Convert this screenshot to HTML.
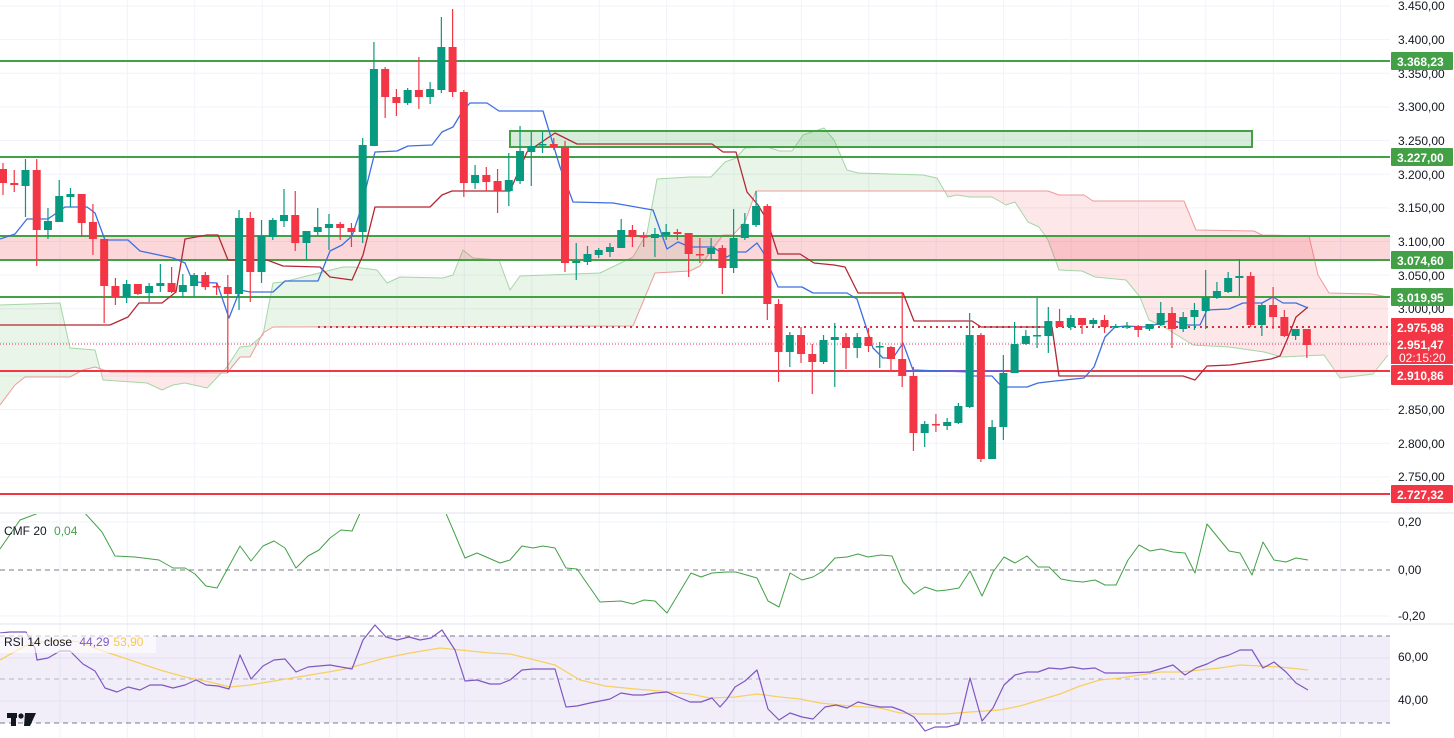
<!DOCTYPE html>
<html><head><meta charset="utf-8">
<style>
html,body{margin:0;padding:0;background:#fff;}
svg{display:block;font-family:"Liberation Sans",sans-serif;}
</style></head>
<body>
<svg id="s" width="1454" height="738" viewBox="0 0 1454 738" xmlns="http://www.w3.org/2000/svg">
<rect width="1454" height="738" fill="#fff"/>
<g id="grid"></g>
<g id="cloud"></g>
<!-- pink band -->
<rect x="0" y="236" width="1390" height="24" fill="rgba(242,54,69,0.2)"/>
<!-- green box -->
<rect x="510" y="131" width="742" height="16" fill="rgba(76,175,80,0.22)" stroke="#43a047" stroke-width="2"/>
<g stroke="#43a047" stroke-width="2">
<line x1="0" y1="61" x2="1390" y2="61"/>
<line x1="0" y1="157" x2="1390" y2="157"/>
<line x1="0" y1="236" x2="1390" y2="236"/>
<line x1="0" y1="260" x2="1390" y2="260"/>
<line x1="0" y1="297" x2="1390" y2="297"/>
</g>
<line x1="0" y1="371" x2="1390" y2="371" stroke="#f23645" stroke-width="2"/>
<line x1="0" y1="494" x2="1390" y2="494" stroke="#f23645" stroke-width="2"/>
<line x1="318" y1="327" x2="1390" y2="327" stroke="#d0343f" stroke-width="2" stroke-dasharray="2,4"/>
<line x1="0" y1="344" x2="1390" y2="344" stroke="#f23645" stroke-width="1" stroke-dasharray="1,2"/>
<line x1="900" y1="371" x2="1005" y2="371" stroke="#7e57c2" stroke-width="2"/>
<g id="lines"></g>
<g id="candles"></g>
<!-- panes -->
<line x1="0" y1="513" x2="1454" y2="513" stroke="#e0e3eb" stroke-width="1"/>
<line x1="0" y1="624" x2="1454" y2="624" stroke="#e0e3eb" stroke-width="1"/>
<line x1="0" y1="570" x2="1390" y2="570" stroke="#787b86" stroke-dasharray="5,4"/>
<rect x="0" y="636" width="1390" height="87" fill="rgba(126,87,194,0.1)"/>
<line x1="0" y1="636" x2="1390" y2="636" stroke="#787b86" stroke-dasharray="5,4"/>
<line x1="0" y1="679" x2="1390" y2="679" stroke="#b2b5be" stroke-dasharray="5,4"/>
<line x1="0" y1="723" x2="1390" y2="723" stroke="#787b86" stroke-dasharray="5,4"/>
<line x1="0" y1="658" x2="1390" y2="658" stroke="#e6e0f0"/>
<line x1="0" y1="701" x2="1390" y2="701" stroke="#e6e0f0"/>
<g id="ind"></g>
<text x="4" y="535" font-size="12" fill="#131722">CMF 20 <tspan fill="#43a047" dx="4">0,04</tspan></text>
<rect x="0" y="633" width="156" height="20" fill="rgba(255,255,255,0.6)"/>
<text x="4" y="646" font-size="12" fill="#131722">RSI 14 close <tspan fill="#7e57c2" dx="4">44,29</tspan><tspan fill="#f7c948" dx="4">53,90</tspan></text>
<!-- logo -->
<g fill="#131722"><rect x="7" y="713" width="10" height="5"/><rect x="11" y="713" width="5" height="13"/><circle cx="21" cy="716" r="2.6"/><polygon points="25,713 36,713 30,726 24,726"/></g>
<g id="axis" font-size="12" fill="#131722"></g>
</svg>
<script>
var NS="http://www.w3.org/2000/svg";
function el(p,t,a){var e=document.createElementNS(NS,t);for(var k in a)e.setAttribute(k,a[k]);p.appendChild(e);return e;}
var G=function(id){return document.getElementById(id);};
// grid
var g=G('grid');
for(var x=60;x<1390;x+=67.4)el(g,'line',{x1:x,y1:0,x2:x,y2:738,stroke:'#f0f3fa'});
for(var i=0;i<15;i++){var y=6+i*33.64;el(g,'line',{x1:0,y1:y,x2:1390,y2:y,stroke:'#f0f3fa'});}
el(g,'line',{x1:0,y1:522,x2:1390,y2:522,stroke:'#f0f3fa'});
el(g,'line',{x1:0,y1:616,x2:1390,y2:616,stroke:'#f0f3fa'});
// cloud
var A=[[0,305],[60,303],[70,348],[95,350],[103,380],[147,383],[162,390],[173,385],[185,383],[207,388],[227,367],[240,347],[250,346],[263,335],[273,283],[283,282],[343,267],[353,267],[377,270],[387,283],[400,277],[443,278],[453,275],[463,250],[473,258],[499,260],[510,290],[520,276],[600,273],[633,257],[647,233],[657,179],[690,177],[711,177],[725,162],[736,158],[745,148],[767,147],[780,151],[792,151],[803,135],[824,128],[834,140],[847,170],[858,173],[923,175],[937,178],[948,197],[957,195],[970,197],[992,197],[1006,205],[1015,202],[1028,222],[1039,227],[1048,240],[1059,270],[1082,271],[1095,277],[1126,280],[1140,297],[1149,320],[1164,327],[1193,345],[1229,347],[1264,352],[1282,357],[1324,355],[1340,378],[1373,374],[1388,355]];
var B=[[0,405],[15,385],[25,377],[70,377],[83,370],[95,367],[110,372],[227,373],[240,357],[250,357],[263,333],[273,327],[633,326],[655,273],[690,271],[700,266],[723,235],[733,235],[745,222],[756,191],[1048,191],[1059,195],[1084,195],[1093,201],[1184,201],[1196,230],[1254,231],[1262,235],[1309,236],[1318,275],[1329,293],[1372,294],[1388,297]];
function interp(P,x){for(var i=1;i<P.length;i++){if(x<=P[i][0]){var a=P[i-1],b=P[i];return a[1]+(b[1]-a[1])*(x-a[0])/(b[0]-a[0]);}}return P[P.length-1][1];}
var c=G('cloud');var seg=[],sgn=null;
function flush(){if(seg.length<2)return;var top=seg.map(function(p){return p[0]+','+p[1];});var bot=seg.slice().reverse().map(function(p){return p[0]+','+p[2];});
el(c,'polygon',{points:top.concat(bot).join(' '),fill:sgn?'rgba(76,175,80,0.13)':'rgba(242,54,69,0.12)'});}
for(var x=0;x<=1388;x+=1){var a=interp(A,x),b=interp(B,x);var s=a<b;if(sgn!==null&&s!==sgn){seg.push([x,a,b]);flush();seg=[[x,a,b]];}else seg.push([x,a,b]);sgn=s;}
flush();
function pl(p,P,col,w){el(p,'polyline',{points:P.map(function(q){return q.join(',')}).join(' '),fill:'none',stroke:col,'stroke-width':w||1,'stroke-linejoin':'round'});}
pl(c,A,'#a5d6a7',1);pl(c,B,'#ef9a9a',1);
var L=G('lines');
var K=[[0,325],[110,325],[128,317],[139,303],[162,303],[176,292],[185,239],[207,235],[218,235],[228,260],[267,260],[283,266],[320,267],[330,277],[352,280],[363,255],[375,207],[430,207],[442,195],[452,191],[510,191],[527,152],[555,133],[577,144],[712,144],[723,152],[736,152],[747,192],[758,205],[767,220],[778,254],[800,254],[814,263],[834,265],[845,267],[858,293],[903,293],[914,321],[972,321],[981,327],[1052,327],[1059,376],[1183,376],[1195,380],[1207,366],[1230,365],[1271,359],[1280,356],[1287,340],[1296,317],[1308,307]];
var T=[[0,239],[15,234],[27,219],[48,219],[65,207],[87,207],[95,213],[105,240],[128,240],[140,251],[173,258],[185,263],[193,282],[217,283],[229,318],[240,290],[250,292],[273,292],[285,281],[318,281],[330,251],[342,245],[352,236],[360,212],[375,152],[397,151],[408,146],[432,145],[442,132],[453,127],[462,112],[470,103],[487,103],[499,111],[543,111],[560,167],[573,202],[613,203],[653,210],[667,249],[678,242],[690,247],[713,247],[727,257],[735,252],[746,252],[757,243],[763,252],[778,287],[802,287],[813,293],[847,293],[857,299],[873,348],[883,358],[893,358],[903,343],[913,370],[970,372],[972,376],[992,376],[1002,387],[1027,387],[1038,383],[1055,381],[1084,378],[1094,367],[1105,337],[1115,327],[1126,326],[1144,327],[1154,325],[1172,320],[1186,325],[1200,325],[1207,310],[1229,309],[1243,303],[1262,303],[1273,297],[1283,303],[1296,303],[1308,308]];
pl(L,K,'#b22833',1.3);pl(L,T,'#3d6fe0',1.3);
// candles
var D=[[169,183,163,195,0],[183,185,170,192,0],[170,186,159,217,1],[170,230,159,266,0],[221,230,208,239,1],[196,222,180,222,1],[194,197,188,207,1],[194,223,194,237,0],[222,239,204,255,0],[239,286,239,323,0],[286,297,278,305,0],[284,297,280,303,1],[284,294,284,295,0],[286,293,283,302,1],[283,286,264,292,1],[283,292,267,293,0],[285,292,274,297,1],[275,286,273,297,1],[275,287,272,290,0],[286,287,283,295,0],[287,294,275,373,0],[218,294,210,310,1],[218,272,212,302,0],[236,272,220,283,1],[220,237,218,240,1],[215,221,189,227,1],[215,243,191,251,0],[231,243,231,260,1],[227,232,208,235,1],[224,228,214,250,1],[224,228,222,240,0],[228,232,223,247,0],[145,232,138,243,1],[69,146,42,146,1],[69,97,67,118,0],[97,103,89,116,0],[90,103,88,105,1],[90,97,57,109,0],[89,97,82,104,1],[47,90,17,93,1],[47,92,9,97,0],[92,183,90,197,0],[175,183,165,189,1],[175,182,167,191,0],[181,191,169,213,0],[180,191,153,206,1],[151,181,126,184,1],[146,152,132,186,1],[144,145,132,153,1],[144,147,138,150,0],[147,263,141,272,0],[261,263,243,280,1],[254,262,246,265,1],[250,255,248,258,1],[247,252,243,257,1],[230,248,219,248,1],[230,237,225,247,0],[236,237,232,247,0],[234,238,228,257,1],[232,235,224,240,1],[232,234,229,240,0],[233,254,233,277,0],[254,255,238,263,0],[248,254,238,260,1],[248,268,245,294,0],[238,268,209,273,1],[224,238,213,240,1],[206,225,191,227,1],[206,304,204,320,0],[304,352,299,382,0],[335,352,332,367,1],[335,354,327,363,0],[354,362,344,394,0],[340,362,335,364,1],[337,340,323,387,1],[337,348,333,369,0],[337,348,333,358,1],[337,346,328,352,0],[346,347,342,368,1],[347,359,346,372,0],[359,376,292,387,0],[376,433,367,451,0],[424,433,421,447,1],[424,425,414,432,0],[422,426,418,430,1],[406,423,403,424,1],[335,407,313,408,1],[335,459,333,462,0],[427,459,420,459,1],[373,427,355,440,1],[344,373,322,373,1],[336,344,330,345,1],[335,336,298,348,1],[321,336,307,353,1],[321,327,309,327,0],[318,327,315,330,1],[318,325,318,334,0],[320,324,318,327,1],[320,327,315,333,0],[326,327,324,328,1],[326,327,322,329,1],[326,330,325,337,0],[324,329,324,331,1],[313,325,302,326,1],[313,329,307,348,0],[317,329,312,332,1],[310,317,303,330,1],[297,311,270,329,1],[291,298,282,299,1],[278,292,272,293,1],[276,278,259,296,1],[276,325,272,327,0],[305,325,303,336,1],[305,317,287,329,0],[317,336,310,337,0],[329,336,329,340,1],[329,345,329,358,0]];
var C=G('candles');
D.forEach(function(d,i){var x=3+i*11.24;var col=d[4]?'#089981':'#f23645';
el(C,'line',{x1:x,y1:d[2],x2:x,y2:d[3],stroke:col,'stroke-width':1.2});
var h=Math.max(1.5,d[1]-d[0]);el(C,'rect',{x:x-4,y:d[0],width:8,height:h,fill:col});});
// indicators
var I=G('ind');
var CMF=[[0,549],[20,520],[44,511],[83,511],[102,532],[115,556],[135,557],[159,560],[173,568],[185,568],[195,574],[206,586],[217,588],[240,546],[251,561],[263,546],[274,541],[285,548],[296,568],[308,556],[319,550],[330,538],[341,530],[352,531],[361,511],[445,511],[465,558],[477,553],[500,563],[510,560],[522,546],[533,548],[543,546],[555,548],[566,568],[577,569],[600,602],[621,601],[633,604],[644,600],[655,601],[667,613],[691,573],[701,577],[712,573],[727,572],[736,572],[757,578],[768,601],[779,607],[790,573],[802,580],[813,577],[823,571],[835,558],[847,557],[858,554],[868,557],[881,555],[892,556],[903,582],[914,594],[925,587],[937,591],[947,590],[959,588],[970,571],[982,596],[993,572],[1004,557],[1015,563],[1027,556],[1038,567],[1049,567],[1061,579],[1072,581],[1083,582],[1095,580],[1105,585],[1116,585],[1128,560],[1139,545],[1150,551],[1161,549],[1173,552],[1185,553],[1195,573],[1207,524],[1229,551],[1240,553],[1252,575],[1263,542],[1274,560],[1286,562],[1296,558],[1308,560]];
var cl=el(I,'clipPath',{id:'cp'});el(cl,'rect',{x:0,y:514,width:1390,height:110});
var gg=el(I,'g',{'clip-path':'url(#cp)'});pl(gg,CMF,'#43a047',1);
var MA=[[0,660],[30,643],[60,640],[80,642],[100,650],[130,660],[160,670],[185,677],[210,682],[230,687],[250,685],[280,680],[310,675],[340,670],[360,665],[385,658],[410,653],[440,648],[460,650],[490,653],[510,654],[535,660],[555,665],[580,680],[605,686],[635,689],[660,691],[690,694],[710,698],[735,697],[757,694],[780,697],[800,699],[820,703],[850,706],[880,708],[900,713],[920,714],[945,714],[970,712],[1000,710],[1020,706],[1040,700],[1060,694],[1080,686],[1100,680],[1120,678],[1140,675],[1160,672],[1180,672],[1200,670],[1220,668],[1240,665],[1260,666],[1280,667],[1308,670]];
var RSI=[[0,633],[10,632],[26,632],[35,648],[37,660],[48,658],[60,651],[70,651],[83,664],[95,671],[105,688],[117,692],[128,687],[140,690],[150,685],[162,685],[173,688],[185,685],[196,680],[206,685],[218,686],[229,689],[240,655],[251,679],[263,666],[274,660],[285,659],[296,672],[308,667],[319,666],[330,665],[341,667],[352,669],[363,640],[375,625],[386,637],[397,640],[409,637],[420,640],[431,638],[442,630],[455,650],[465,681],[477,680],[490,684],[500,684],[510,680],[522,670],[533,669],[543,669],[555,669],[566,707],[577,706],[590,703],[600,701],[610,699],[621,693],[633,695],[643,695],[655,693],[667,692],[678,697],[690,702],[701,702],[712,698],[720,707],[727,699],[735,687],[745,681],[757,670],[768,709],[779,720],[790,713],[802,717],[813,719],[825,707],[836,705],[847,708],[858,702],[870,705],[880,707],[892,707],[903,711],[914,717],[925,731],[935,727],[947,727],[959,724],[970,678],[982,721],[993,708],[1004,685],[1015,675],[1027,672],[1038,672],[1049,668],[1061,669],[1072,667],[1083,669],[1095,668],[1105,673],[1128,673],[1150,672],[1173,665],[1185,675],[1196,668],[1207,664],[1219,658],[1229,655],[1240,650],[1252,650],[1263,668],[1274,662],[1286,672],[1296,683],[1308,690]];
pl(I,MA,'#f7d060',1.3);pl(I,RSI,'#7e57c2',1.2);
// axis
var ax=G('axis');
var labs=[['3.450,00',6],['3.400,00',40],['3.350,00',74],['3.300,00',107],['3.250,00',141],['3.200,00',175],['3.150,00',208],['3.100,00',242],['3.050,00',276],['3.000,00',309],['2.850,00',410],['2.800,00',444],['2.750,00',477],['0,20',522],['0,00',570],['-0,20',616],['60,00',657],['40,00',700]];
labs.forEach(function(l){var t=el(ax,'text',{x:1398,y:l[1]+4});t.textContent=l[0];});
function box(txt,y,col,h){h=h||18;el(ax,'rect',{x:1391,y:y-h/2,width:62,height:h,fill:col,rx:1});var t=el(ax,'text',{x:1397,y:y+5,fill:'#fff','font-weight':'bold'});t.textContent=txt;}
box('3.368,23',61,'#43a047');box('3.227,00',157,'#43a047');box('3.074,60',260,'#43a047');box('3.019,95',297,'#43a047');
box('2.975,98',327,'#f23645');
el(ax,'rect',{x:1391,y:336,width:62,height:28,fill:'#f23645'});
var t1=el(ax,'text',{x:1397,y:349,fill:'#fff','font-weight':'bold'});t1.textContent='2.951,47';
var t2=el(ax,'text',{x:1399,y:362,fill:'#fff'});t2.textContent='02:15:20';
box('2.910,86',375,'#f23645',20);box('2.727,32',494,'#f23645');
</script>
</body></html>
